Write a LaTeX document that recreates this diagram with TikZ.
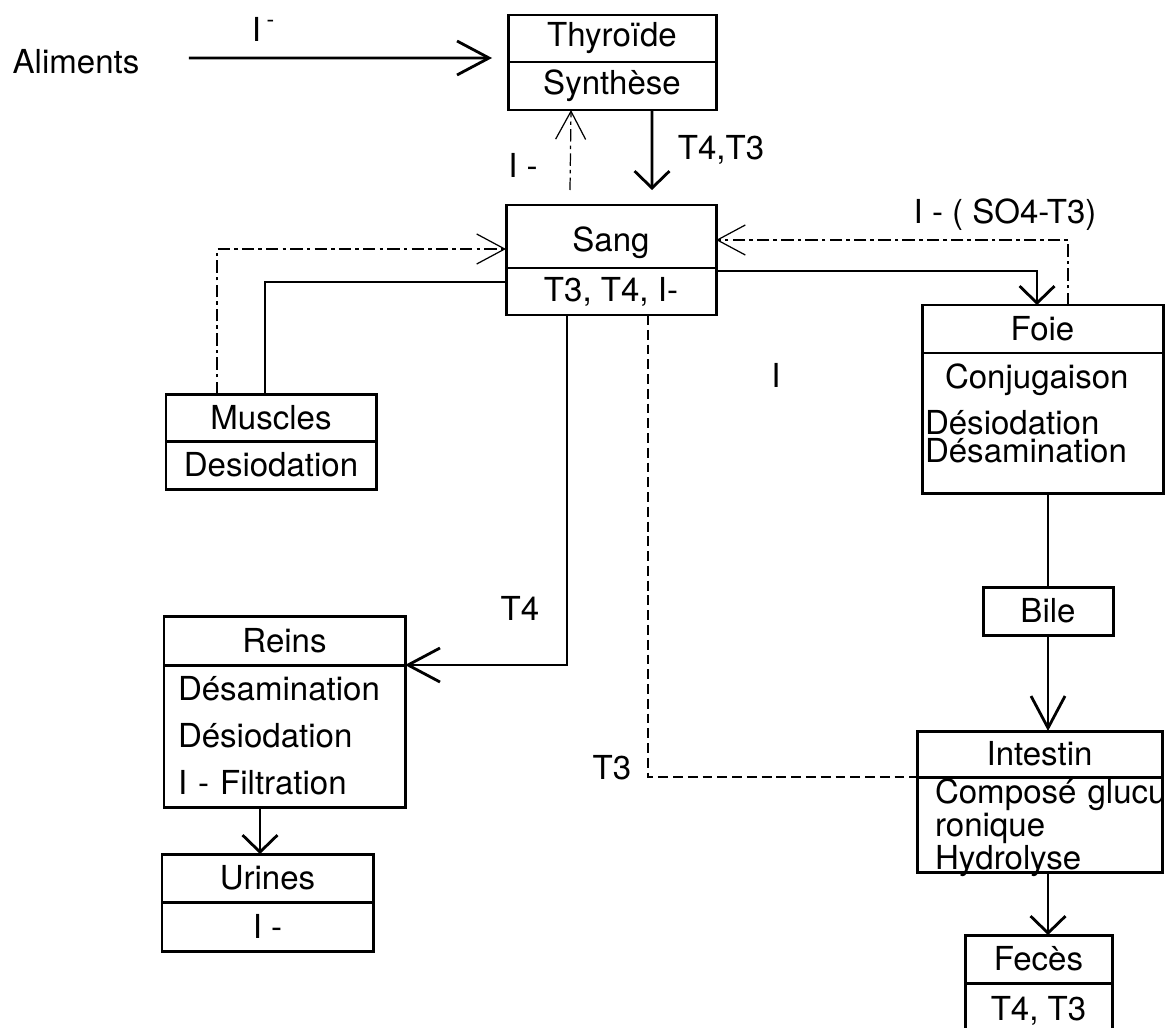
\documentclass[tikz,border=0pt]{standalone}
\usepackage{fontspec}
\setmainfont{TeX Gyre Heros}
\usetikzlibrary{arrows.meta}

\begin{document}
\begin{tikzpicture}[x=0.1mm,y=-0.1mm,
   every node/.style={font=\fontsize{9.4}{11}\selectfont},
   box/.style={draw,line width=0.85pt,inner sep=0pt,outer sep=0pt},
   link/.style={line width=0.8pt},
   dlink/.style={line width=0.35pt,dash pattern=on 2.8pt off 1.4pt},
   flow/.style={link,-{Straight Barb[length=3.2mm,width=3.4mm]}},
   sflow/.style={link,-{Straight Barb[length=1.7mm,width=3.5mm]}},
   dflow/.style={line width=0.35pt,dash pattern=on 3.5pt off 1.2pt on 1pt off 1.2pt,
                 -{Straight Barb[length=2.8mm,width=3mm]}}]
   \useasboundingbox (0,0) rectangle (1175,1027);
   \clip (0,0) rectangle (1175,1027);
   % boxes
   \node (alim) at (76,62) {Aliments};
   \node[box,minimum width=20.8mm,minimum height=4.7mm] (thyr) at (612,38.5) {Thyroïde};
   \node[box,minimum width=20.8mm,minimum height=4.8mm,anchor=north] (synth) at (thyr.south) {Synthèse};
   \node[box,minimum width=21mm,minimum height=6.3mm] (sang) at (611,236.5) {\raisebox{-1.7pt}[\height][\depth]{Sang}};
   \node[box,minimum width=21mm,minimum height=4.7mm,anchor=north] (sangb) at (sang.south) {T3, T4, I-};
   \node[box,minimum width=21mm,minimum height=4.7mm] (musc) at (271,417.5) {Muscles};
   \node[box,minimum width=21mm,minimum height=4.8mm,anchor=north] (muscb) at (musc.south) {Desiodation};
   \node[box,minimum width=24.1mm,minimum height=4.9mm] (reins) at (284.5,640.5) {Reins};
   \node[box,minimum width=24.1mm,minimum height=14.2mm,anchor=north,text width=21.3mm,align=left,
         font={\fontsize{9.4}{13.4}\selectfont}] (reinsb) at (reins.south)
         {Désamination\\Désiodation\\I - Filtration};
   \node[box,minimum width=21.1mm,minimum height=4.8mm] (urin) at (267.5,878) {Urines};
   \node[box,minimum width=21.1mm,minimum height=4.9mm,anchor=north] (urinb) at (urin.south) {I -};
   \node[box,minimum width=24.1mm,minimum height=4.8mm] (foie) at (1042.5,329) {Foie};
   \node[box,minimum width=24.1mm,minimum height=14mm,anchor=north,text width=23.5mm,align=left,
         font={\fontsize{9.4}{8}\selectfont\lineskiplimit=-20pt}] (foieb) at (foie.south)
         {\hspace*{2mm}Conjugaison\\[1.8mm]Désiodation\\Désamination\\[-0.8mm]\mbox{}};
   \node[box,minimum width=13mm,minimum height=4.8mm] (bile) at (1048,611) {Bile};
   \node[box,minimum width=24.5mm,minimum height=4.6mm] (intes) at (1039.5,754) {Intestin};
   \node[box,minimum width=24.5mm,minimum height=9.5mm,anchor=north,text width=20.9mm,align=left,
         font={\fontsize{9.4}{9.4}\selectfont\lineskiplimit=-20pt}] (intesb) at (intes.south)
         {Composé~glucu\\ronique\\\raisebox{0pt}[\height][0pt]{Hydrolyse}};
   \node[box,minimum width=14.7mm,minimum height=4.8mm] (fece) at (1038.5,959) {Fecès};
   \node[box,minimum width=14.7mm,minimum height=5.6mm,anchor=north] (feceb) at (fece.south) {T4, T3};
   % labels
   \node (iali) at (264,29) {I\,\textsuperscript{-}};
   \node (tft) at (721,150) {T4,T3};
   \node (imt) at (523,165) {I -};
   \node (iso) at (1005,215) {I - ( SO4-T3)};
   \node (ifo) at (776,375) {I};
   \node (tqr) at (520,608) {T4};
   \node (ttr) at (612,768) {T3};
   % connectors
   \draw[flow] ([xshift=3.7mm,yshift=0.4mm]alim.east) -- ([xshift=-1.6mm,yshift=0.4mm]thyr.south west);
   \draw[sflow] ([xshift=4mm]synth.south) -- ([xshift=4.1mm,yshift=1.5mm]sang.north);
   \draw[dflow] ([xshift=-4.1mm,yshift=1.5mm]sang.north) -- ([xshift=-4.1mm]synth.south);
   \draw[dflow] ([xshift=-5.4mm]musc.north) |- ([yshift=-1.25mm]sang.west);
   \draw[link] ([xshift=-0.6mm]musc.north) |- ([yshift=-1.4mm]sangb.north west);
   \draw[flow] ([xshift=-4.4mm]sangb.south) |- (reins.south east);
   \draw[dlink] ([xshift=3.7mm]sangb.south) |- (intes.south west);
   \draw[sflow] ([yshift=-0.3mm]sang.south east) -| ([xshift=-0.55mm]foie.north);
   \draw[dflow] ([xshift=2.55mm]foie.north) |- ([yshift=-0.35mm]sang.east);
   \draw[link] (bile.north |- foieb.south) -- (bile.north);
   \draw[flow] (bile.south) -- (bile.south |- intes.north);
   \draw[sflow] (bile.south |- intesb.south) -- (bile.south |- fece.north);
   \draw[sflow] ([xshift=-2.45mm]reinsb.south) -- ([xshift=-2.45mm]reinsb.south |- urin.north);
\end{tikzpicture}
\end{document}
